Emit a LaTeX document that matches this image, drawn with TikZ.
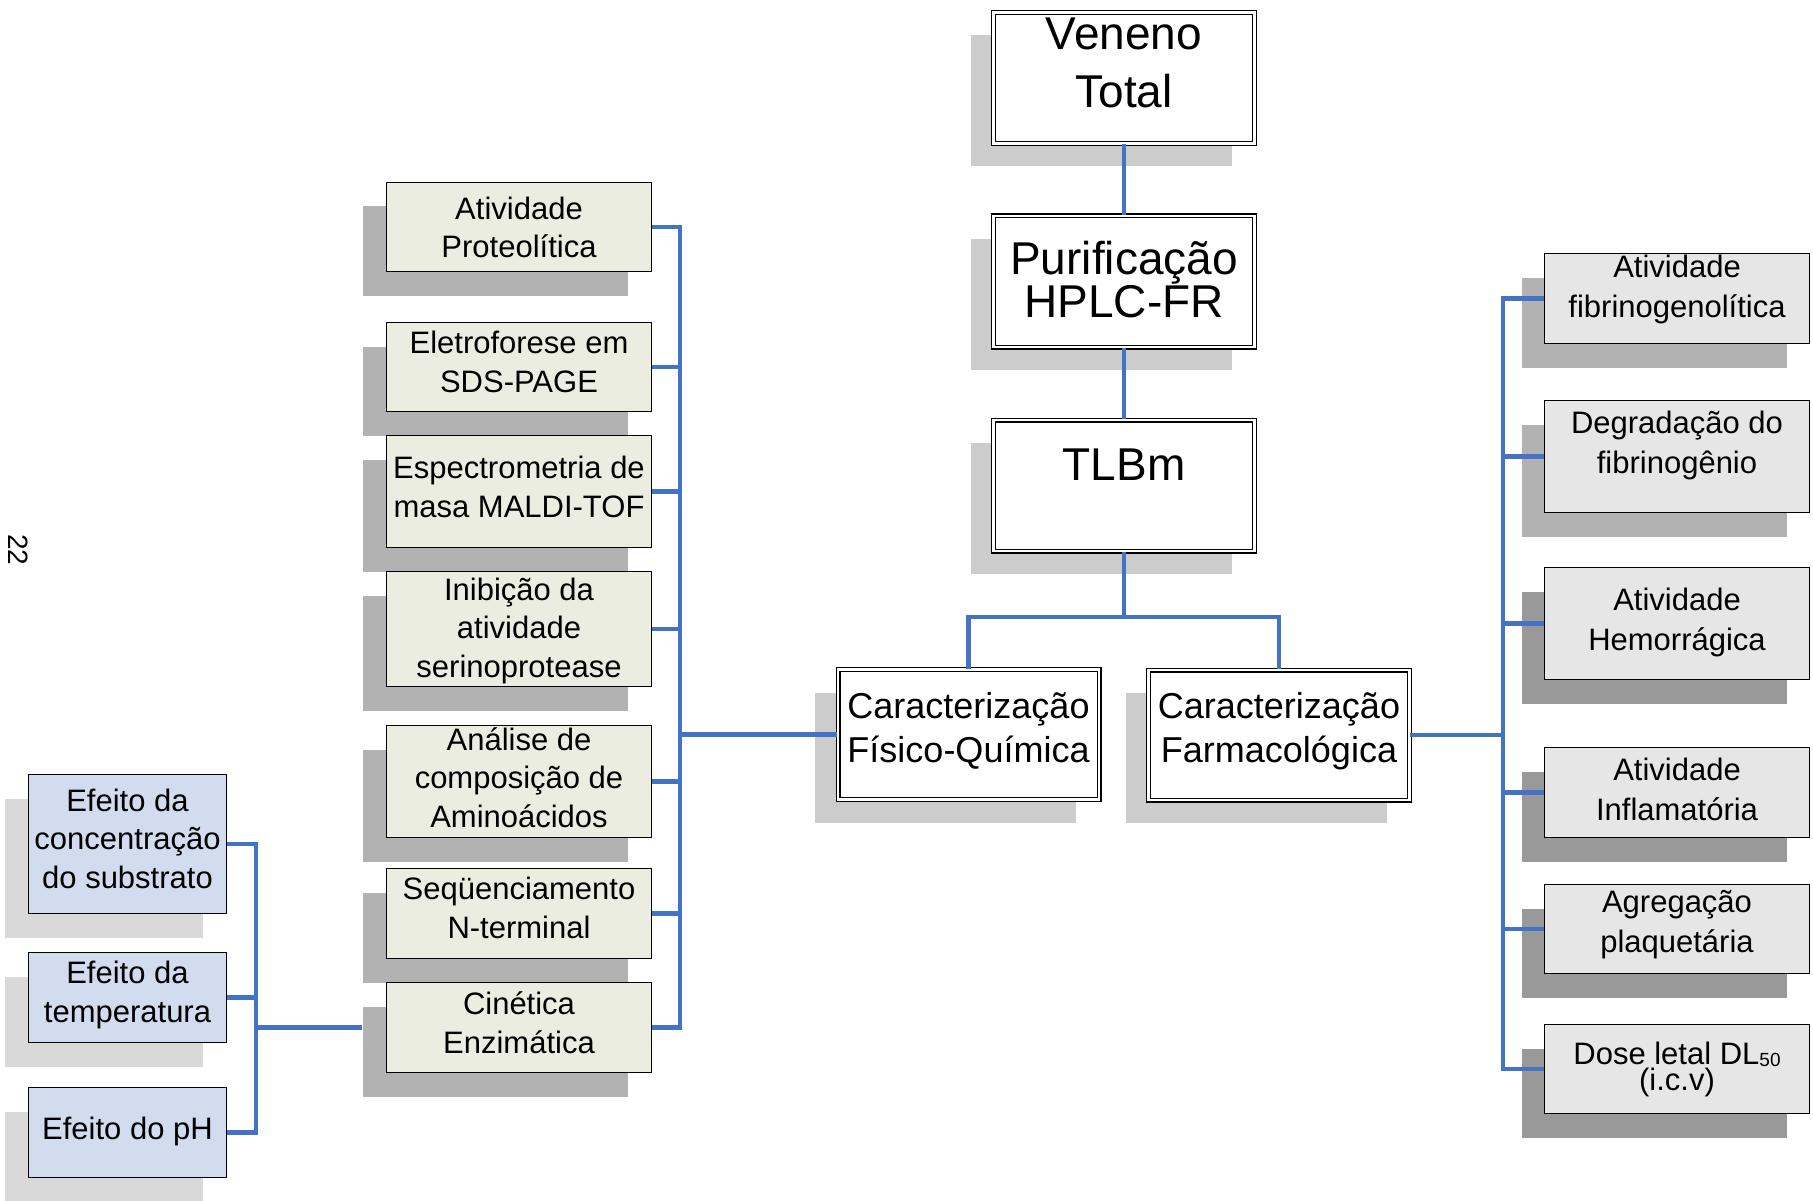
\documentclass[tikz,border=0pt]{standalone}
\usepackage{fontspec}
\setmainfont{Liberation Sans}
\usetikzlibrary{shadows}
\definecolor{bl}{RGB}{68,114,196}
\definecolor{midfill}{RGB}{236,237,225}
\definecolor{rfill}{RGB}{230,230,230}
\definecolor{efill}{RGB}{209,220,239}
\definecolor{shtop}{RGB}{204,204,204}
\definecolor{shmid}{RGB}{178,178,178}
\definecolor{shdark}{RGB}{153,153,153}
\definecolor{shef}{RGB}{217,217,217}
\begin{document}
\begin{tikzpicture}[x=1pt,y=-1pt,
  conn/.style={draw=bl, line width=4.6pt},
  tp/.style 2 args={text height=#1pt, text depth=#2pt},
  topbox/.style={draw=black, line width=1.3pt, double=white, double distance=2.4pt,
    fill=white, inner sep=0pt, align=center, minimum width=261pt, minimum height=131pt,
    font=\fontsize{46}{41}\selectfont,
    drop shadow={shadow xshift=-23pt, shadow yshift=-23pt, fill=shtop, opacity=1}},
  carbox/.style={topbox, minimum height=130pt, font=\fontsize{36}{44}\selectfont},
  midbox/.style={draw=black, line width=1.5pt, fill=midfill, inner sep=0pt, align=center,
    minimum width=265pt, font=\fontsize{31}{38.5}\selectfont,
    drop shadow={shadow xshift=-24pt, shadow yshift=-24pt, fill=shmid, opacity=1}},
  efbox/.style={midbox, fill=efill, minimum width=198pt,
    drop shadow={shadow xshift=-24pt, shadow yshift=-24pt, fill=shef, opacity=1}},
  rbox/.style={draw=black, line width=1.5pt, fill=rfill, inner sep=0pt, align=center,
    minimum width=265pt, font=\fontsize{31}{40}\selectfont,
    drop shadow={shadow xshift=-23pt, shadow yshift=-24pt, fill=#1, opacity=1}},
  rbox/.default=shmid
]
\useasboundingbox (0,0) rectangle (1813,1201);

% top column
\node[topbox, tp={60}{0}, font=\fontsize{46}{58}\selectfont] (vt) at (1124,78) {Veneno\\Total};
\node[topbox, tp={71}{0}] (pur) at (1124,281.5) {Purificação\\HPLC-FR};
\node[topbox, tp={34}{45}] (tlbm) at (1124,485.5) {TLBm};
\node[carbox, tp={55}{0}] (fq) at (968.5,734.5) {Caracterização\\Físico-Química};
\node[carbox, tp={54}{0}] (farm) at (1279,735) {Caracterização\\Farmacológica};

% middle column
\node[midbox, minimum height=89pt, tp={62}{0}] (prot) at (519,227) {Atividade\\Proteolítica};
\node[midbox, minimum height=89pt, tp={50}{0}] (elet) at (519,367) {Eletroforese em\\SDS-PAGE};
\node[midbox, minimum height=112pt, tp={51}{0}] (esp) at (519,491.5) {Espectrometria de\\masa MALDI-TOF};
\node[midbox, minimum height=115pt, tp={96}{0}] (inib) at (519,629) {Inibição da\\atividade\\serinoprotease};
\node[midbox, minimum height=112pt, tp={91}{0}] (anal) at (519,781.5) {Análise de\\composição de\\Aminoácidos};
\node[midbox, minimum height=90pt, tp={49}{0}] (seq) at (519,913.5) {Seqüenciamento\\N-terminal};
\node[midbox, minimum height=90pt, tp={51}{0}] (cin) at (519,1027.5) {Cinética\\Enzimática};

% left column
\node[efbox, minimum height=139pt, tp={88}{0}] (conc) at (127.5,844) {Efeito da\\concentração\\do substrato};
\node[efbox, minimum height=90pt, tp={49}{0}] (temp) at (127.5,997.5) {Efeito da\\temperatura};
\node[efbox, minimum height=90pt, tp={22}{9}] (ph) at (127.5,1132.5) {Efeito do pH};

% right column
\node[rbox, minimum height=90pt, tp={37}{0}] (fib) at (1677,298.5) {Atividade\\fibrinogenolítica};
\node[rbox, minimum height=112pt, tp={33}{0}] (deg) at (1677,456.5) {Degradação do\\fibrinogênio};
\node[rbox=shdark, minimum height=112pt, tp={53}{0}] (hem) at (1677,623.5) {Atividade\\Hemorrágica};
\node[rbox=shdark, minimum height=90pt, tp={55}{0}] (infl) at (1677,792.5) {Atividade\\Inflamatória};
\node[rbox=shdark, minimum height=89pt, tp={46}{0}] (agr) at (1677,929) {Agregação\\plaquetária};
\node[rbox=shdark, minimum height=89pt, tp={42}{0}, font=\fontsize{31}{16}\selectfont] (dose) at (1677,1069)
  {Dose letal DL\raisebox{-2pt}{\fontsize{19}{19}\selectfont 50}\\(i.c.v)};

% page number
\node[rotate=-90, font=\fontsize{28}{28}\selectfont, inner sep=0pt] (pg) at (18,550) {22};

% connectors: top
\coordinate (j) at (1124,617);
\draw[conn] (vt.south) -- (pur.north);
\draw[conn] (pur.south) -- (tlbm.north);
\draw[conn] (tlbm.south) -- (j);
\draw[conn] (fq.north) |- (j) -| (farm.north);

% connectors: middle bus
\coordinate (mb) at (680,734.5);
\draw[conn] (mb) -- (fq.west);
\draw[conn] (prot.east) -- (prot.east -| mb) -- (cin.east -| mb) -- (cin.east);
\foreach \n in {elet,esp,inib,anal,seq} \draw[conn] (\n.east) -- (\n.east -| mb);

% connectors: right bus
\coordinate (rb) at (1503,735);
\draw[conn] (farm.east) -- (rb);
\draw[conn] (fib.west) -- (fib.west -| rb) -- (dose.west -| rb) -- (dose.west);
\foreach \n in {deg,hem,infl,agr} \draw[conn] (rb |- \n.west) -- (\n.west);

% connectors: left bus
\coordinate (lb) at (256,1027.5);
\draw[conn] (conc.east) -- (conc.east -| lb) -- (ph.east -| lb) -- (ph.east);
\draw[conn] (temp.east) -- (temp.east -| lb);
\draw[conn] (lb) -- ([xshift=-24pt]cin.west);
\end{tikzpicture}
\end{document}
